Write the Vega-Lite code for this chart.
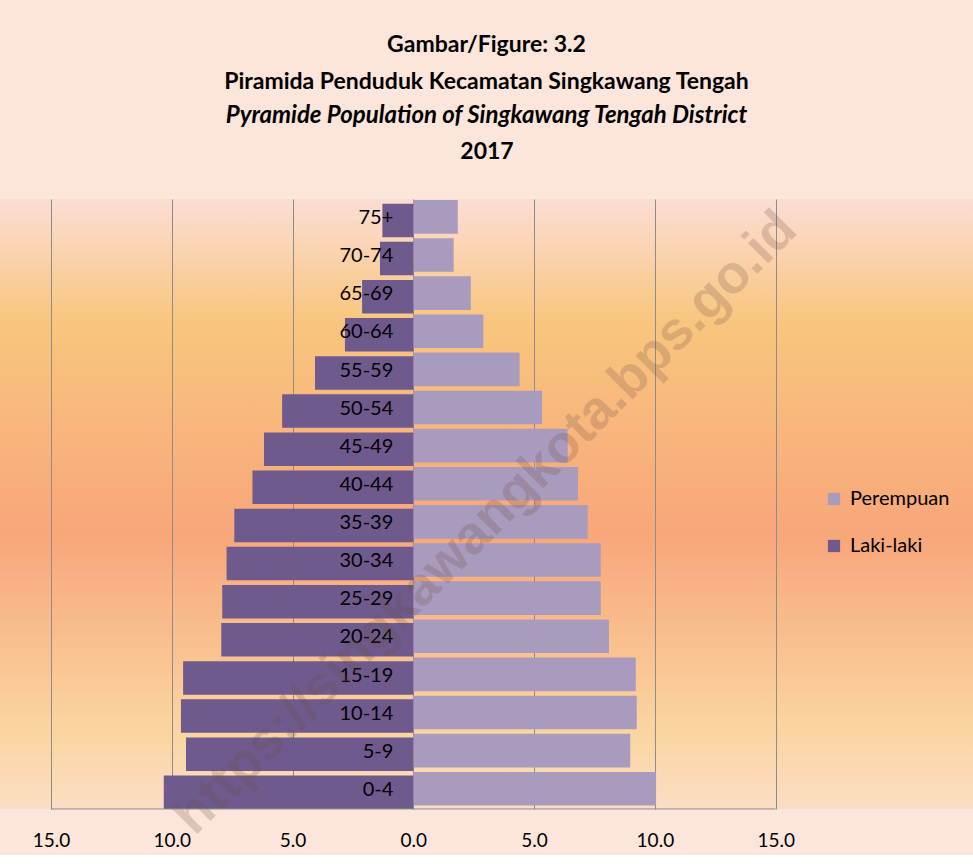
{
  "$schema": "https://vega.github.io/schema/vega-lite/v6.json",
  "width": 973,
  "height": 610,
  "padding": {"left": 0, "right": 0, "top": 34, "bottom": 5},
  "background": "#FCE5DA",
  "view": {
    "stroke": null,
    "fill": {
      "gradient": "linear",
      "x1": 0, "y1": 0, "x2": 0, "y2": 1,
      "stops": [
        {"offset": 0, "color": "#FCDDD4"},
        {"offset": 0.2, "color": "#F8C67E"},
        {"offset": 0.55, "color": "#F8A67A"},
        {"offset": 0.87, "color": "#FAD5A0"},
        {"offset": 1, "color": "#FCDDC4"}
      ]
    }
  },
  "title": {
    "text": ["Gambar/Figure: 3.2", "Piramida Penduduk Kecamatan Singkawang Tengah"],
    "subtitle": "Pyramide Population of Singkawang Tengah District",
    "anchor": "middle",
    "font": "Lato",
    "fontSize": 23,
    "fontWeight": "bold",
    "color": "#000000",
    "lineHeight": 37,
    "subtitleFont": "Lato",
    "subtitleFontSize": 24,
    "subtitleFontStyle": "italic",
    "subtitleFontWeight": "bold",
    "subtitleColor": "#000000",
    "subtitlePadding": 10,
    "offset": 12
  },
  "data": {
    "values": [
      {"age": "75+", "sex": "Perempuan", "value": 1.84},
      {"age": "70-74", "sex": "Perempuan", "value": 1.67},
      {"age": "65-69", "sex": "Perempuan", "value": 2.38},
      {"age": "60-64", "sex": "Perempuan", "value": 2.90},
      {"age": "55-59", "sex": "Perempuan", "value": 4.40},
      {"age": "50-54", "sex": "Perempuan", "value": 5.33},
      {"age": "45-49", "sex": "Perempuan", "value": 6.39},
      {"age": "40-44", "sex": "Perempuan", "value": 6.82},
      {"age": "35-39", "sex": "Perempuan", "value": 7.22},
      {"age": "30-34", "sex": "Perempuan", "value": 7.76},
      {"age": "25-29", "sex": "Perempuan", "value": 7.76},
      {"age": "20-24", "sex": "Perempuan", "value": 8.10},
      {"age": "15-19", "sex": "Perempuan", "value": 9.21},
      {"age": "10-14", "sex": "Perempuan", "value": 9.25},
      {"age": "5-9", "sex": "Perempuan", "value": 8.98},
      {"age": "0-4", "sex": "Perempuan", "value": 10.05},
      {"age": "75+", "sex": "Laki-laki", "value": -1.28},
      {"age": "70-74", "sex": "Laki-laki", "value": -1.38},
      {"age": "65-69", "sex": "Laki-laki", "value": -2.12},
      {"age": "60-64", "sex": "Laki-laki", "value": -2.83},
      {"age": "55-59", "sex": "Laki-laki", "value": -4.07},
      {"age": "50-54", "sex": "Laki-laki", "value": -5.43},
      {"age": "45-49", "sex": "Laki-laki", "value": -6.18},
      {"age": "40-44", "sex": "Laki-laki", "value": -6.66},
      {"age": "35-39", "sex": "Laki-laki", "value": -7.41},
      {"age": "30-34", "sex": "Laki-laki", "value": -7.73},
      {"age": "25-29", "sex": "Laki-laki", "value": -7.91},
      {"age": "20-24", "sex": "Laki-laki", "value": -7.95},
      {"age": "15-19", "sex": "Laki-laki", "value": -9.53},
      {"age": "10-14", "sex": "Laki-laki", "value": -9.62},
      {"age": "5-9", "sex": "Laki-laki", "value": -9.41},
      {"age": "0-4", "sex": "Laki-laki", "value": -10.33}
    ]
  },
  "resolve": {"axis": {"x": "independent"}},
  "layer": [
    {
      "transform": [{"filter": "datum.sex === 'Perempuan'"}],
      "mark": {"type": "bar", "yOffset": -1.2, "y2Offset": -1.2},
      "encoding": {
        "y": {
          "field": "age", "type": "nominal",
          "scale": {"domain": ["75+", "70-74", "65-69", "60-64", "55-59", "50-54", "45-49", "40-44", "35-39", "30-34", "25-29", "20-24", "15-19", "10-14", "5-9", "0-4"], "paddingInner": 0.12, "paddingOuter": 0.06},
          "axis": null
        },
        "x": {
          "field": "value", "type": "quantitative",
          "scale": {"domain": [-17.11, 23.17], "nice": false},
          "axis": {
            "orient": "bottom",
            "values": [-15, -10, -5, 0, 5, 10, 15],
            "labelExpr": "format(abs(datum.value), '.1f')",
            "grid": true,
            "gridColor": "#8C8C8C",
            "gridWidth": 1,
            "ticks": false,
            "domain": false,
            "title": null,
            "labelFont": "Lato",
            "labelFontSize": 19,
            "labelColor": "#000000",
            "labelPadding": 22
          }
        },
        "color": {
          "field": "sex", "type": "nominal",
          "scale": {"domain": ["Perempuan", "Laki-laki"], "range": ["#A99BBE", "#6F5A8E"]},
          "legend": {
            "orient": "none",
            "legendX": 824,
            "legendY": 290,
            "title": null,
            "symbolType": "square",
            "symbolSize": 150,
            "symbolStrokeWidth": 0,
            "labelFont": "Lato",
            "labelFontSize": 20,
            "labelColor": "#000000",
            "rowPadding": 27,
            "labelOffset": 6
          }
        }
      }
    },
    {
      "transform": [{"filter": "datum.sex === 'Laki-laki'"}],
      "mark": {"type": "bar", "yOffset": 2.4, "y2Offset": 2.4},
      "encoding": {
        "y": {"field": "age", "type": "nominal", "axis": null},
        "x": {
          "field": "value", "type": "quantitative",
          "axis": {
            "orient": "top",
            "title": "2017",
            "labels": false,
            "ticks": false,
            "domain": false,
            "grid": false,
            "titleFont": "Lato",
            "titleFontSize": 23,
            "titleFontWeight": "bold",
            "titleColor": "#000000",
            "titlePadding": 36
          }
        },
        "color": {"field": "sex", "type": "nominal"}
      }
    },
    {
      "transform": [{"filter": "datum.sex === 'Perempuan'"}],
      "mark": {"type": "text", "align": "right", "baseline": "middle", "dx": -20, "fontSize": 20, "font": "Lato", "color": "#000000"},
      "encoding": {
        "y": {"field": "age", "type": "nominal", "axis": null},
        "x": {"datum": 0, "type": "quantitative", "axis": null},
        "text": {"field": "age", "type": "nominal"}
      }
    },
    {
      "data": {"values": [{"watermark": "https://singkawangkota.bps.go.id"}]},
      "mark": {"type": "text", "align": "center", "baseline": "middle", "angle": -45, "fontSize": 54, "fontWeight": "bold", "font": "Liberation Sans", "color": "#6E4E44", "opacity": 0.22},
      "encoding": {
        "y": {"datum": "35-39", "type": "nominal", "axis": null},
        "x": {"datum": 3.0, "type": "quantitative", "axis": null},
        "text": {"field": "watermark", "type": "nominal"}
      }
    },
    {
      "data": {"values": [{"line": "baseline"}]},
      "mark": {"type": "rule", "color": "#8C8C8C", "strokeWidth": 1},
      "encoding": {
        "y": {"datum": "0-4", "type": "nominal", "bandPosition": 1.067, "axis": null},
        "x": {"datum": -15, "type": "quantitative", "axis": null},
        "x2": {"datum": 15}
      }
    }
  ]
}
